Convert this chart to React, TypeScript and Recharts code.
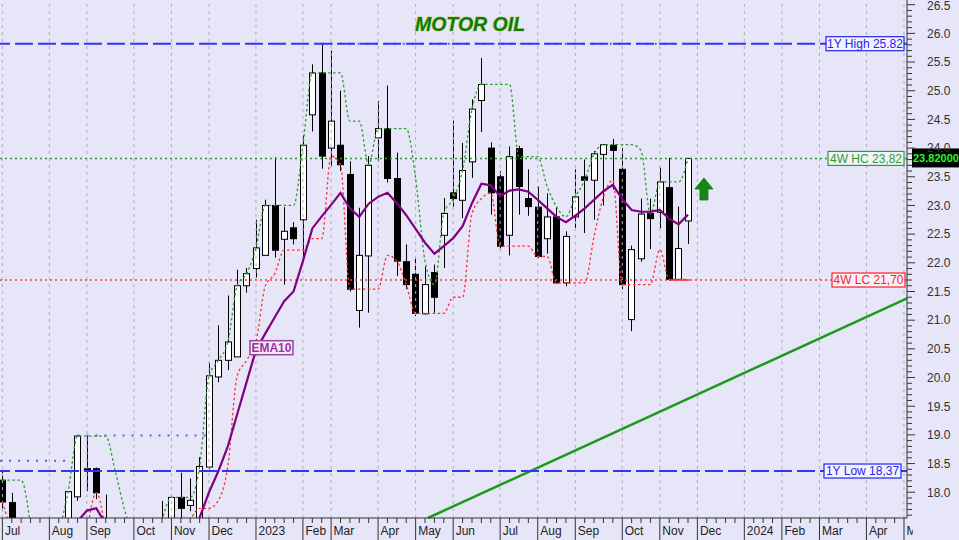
import React from 'react';
import { ComposedChart, XAxis, YAxis, Bar, Line, ReferenceLine, ReferenceDot } from 'recharts';

const n = null;

// Weekly candles, week 0 = first week of Jul 2022 (weeks hidden below the visible range are null)
const opens = [18.21,17.82,n,n,n,n,n,17.40,17.92,18.41,18.41,17.45,n,n,n,n,n,17.20,17.45,17.91,17.77,17.50,18.44,20.01,20.30,20.36,21.60,21.90,22.13,23.00,22.41,22.61,22.75,24.58,25.31,24.00,24.05,23.54,21.17,22.12,24.18,24.34,23.47,22.02,21.80,21.11,21.83,22.48,23.22,23.09,23.76,24.83,24.00,23.50,22.48,23.99,23.12,22.97,22.42,22.80,21.65,22.80,23.50,23.44,23.89,24.05,23.63,21.01,22.07,22.86,22.88,23.31,21.71,22.73];
const highs = [18.37,17.99,n,n,n,n,n,18.02,18.99,18.98,18.43,17.96,n,n,n,n,n,17.85,17.91,18.34,18.24,18.61,20.26,20.91,21.43,21.88,21.91,22.75,23.10,23.84,22.97,22.71,24.22,25.46,25.82,25.70,25.00,23.77,22.96,23.86,24.82,25.09,23.92,22.32,22.09,21.94,21.97,23.13,24.48,24.09,24.85,25.57,24.10,23.60,24.03,24.04,23.63,23.33,23.21,22.96,22.55,23.63,23.80,23.95,24.07,24.16,24.00,22.30,23.12,23.12,23.66,23.83,22.98,23.82];
const lows = [17.67,17.30,n,n,n,n,n,17.30,17.85,18.02,17.88,17.00,n,n,n,n,n,17.00,17.30,17.52,17.67,17.45,18.40,19.92,20.13,20.36,21.48,21.74,22.13,22.09,21.62,22.32,22.12,24.29,23.64,23.68,23.60,21.50,20.87,21.13,23.77,23.40,21.77,21.54,21.07,21.10,21.13,21.91,22.98,22.78,23.48,24.28,22.84,22.25,22.13,22.84,22.82,22.08,22.16,21.64,21.59,22.61,22.52,22.75,23.00,23.28,21.54,20.81,22.02,22.24,22.60,21.69,21.70,22.33];
const closes = [17.83,17.45,n,n,n,n,n,18.01,18.98,18.38,17.99,17.10,n,n,n,n,n,17.50,17.91,17.72,17.86,18.45,20.03,20.30,20.62,21.60,21.81,22.26,23.00,22.22,22.55,22.42,24.05,25.31,23.86,24.47,23.71,21.54,22.13,23.70,24.34,23.47,22.03,21.62,21.12,21.62,21.40,22.86,23.12,23.61,24.68,25.11,23.22,22.29,23.85,23.33,22.98,22.11,22.80,21.65,22.46,23.15,23.44,23.90,24.06,23.96,21.62,22.23,22.85,22.77,23.41,21.71,22.25,23.82];
const ema10 = [n,n,n,n,n,n,n,n,17.49,17.68,17.72,17.45,n,n,n,n,n,n,n,n,17.35,17.56,18.0,18.37,18.8,19.36,19.92,20.48,20.77,21.05,21.33,21.5,22.03,22.6,22.81,23.01,23.22,22.95,22.8,23.03,23.15,23.22,23.04,22.83,22.59,22.35,22.16,22.29,22.43,22.64,23.04,23.38,23.35,23.16,23.26,23.28,23.24,23.1,22.95,22.8,22.71,22.82,22.95,23.1,23.25,23.36,23.11,22.92,22.89,22.89,22.92,22.77,22.67,22.84];
const highClose4w = [18.21,18.21,18.21,17.4,n,n,17.3,18.01,18.98,18.98,18.98,18.98,18.38,17.7,17.2,n,n,17.5,17.91,17.91,17.91,18.45,20.03,20.30,20.62,21.60,21.81,22.26,23.00,23.00,23.00,23.00,24.05,25.31,25.31,25.31,25.31,24.47,24.47,23.71,24.34,24.34,24.34,24.34,23.47,22.03,21.62,22.86,23.12,23.61,24.68,25.11,25.11,25.11,25.11,23.85,23.85,23.85,23.33,22.98,22.80,23.15,23.44,23.90,24.06,24.06,24.06,24.06,23.96,22.85,23.41,23.41,23.41,23.82];
const lowClose4w = [17.83,17.3,n,n,n,n,n,n,n,17.3,17.99,17.3,n,n,n,n,n,n,n,n,17.5,17.72,17.72,17.86,18.45,20.03,20.30,20.62,21.60,21.81,22.22,22.22,22.22,22.42,22.42,23.86,23.71,21.54,21.54,21.54,21.54,22.13,22.03,21.62,21.12,21.12,21.12,21.12,21.40,21.40,22.86,23.12,23.22,22.29,22.29,22.29,22.29,22.11,22.11,21.65,21.65,21.65,21.65,22.46,23.15,23.44,21.62,21.62,21.62,21.62,22.23,21.71,21.71,21.71];

// Month ticks (week index -> label)
const monthTickIdx = [0,5,9,14,18,22,27,32,35,40,44,48,53,57,61,66,70,74,79,83,87,92,96];
const monthTickLabels = ['Jul','Aug','Sep','Oct','Nov','Dec','2023','Feb','Mar','Apr','May','Jun','Jul','Aug','Sep','Oct','Nov','Dec','2024','Feb','Mar','Apr','May'];

// Levels
const yearHigh = 25.82;
const yearLow = 18.37;
const hc4Level = 23.82;
const lc4Level = 21.70;
const lastPrice = '23.82000';
const trendStart = { x: 45.3, y: 17.551 };
const trendEnd = { x: 96.32, y: 21.38 };

const FONT = '"Liberation Sans", Arial, Helvetica, sans-serif';
const W = 959;
const H = 540;
const Y_AXIS_W = 52;
const X_AXIS_H = 22;
const PLOT_RIGHT = W - Y_AXIS_W;
const BG = '#E6E6F8';

const data = opens.map((o, i) => ({
  i,
  open: o,
  high: highs[i],
  low: lows[i],
  close: closes[i],
  ema: ema10[i],
  hc: highClose4w[i],
  lc: lowClose4w[i],
}));

const weekTicks = Array.from({ length: 97 }, (_, k) => k);
const yTicks = Array.from({ length: 90 }, (_, k) => Math.round((17.6 + k * 0.1) * 10) / 10);

const Candle = (props: any) => {
  const { x, y, width, height, payload } = props;
  if (!payload || payload.high == null) return null;
  const top = Math.min(y, y + height);
  const h = Math.abs(height);
  const range = payload.high - payload.low || 1;
  const py = (v: number) => top + ((payload.high - v) / range) * h;
  const cx = Math.round(x + width / 2) + 0.5;
  const up = payload.close >= payload.open;
  const bTop = py(Math.max(payload.open, payload.close));
  const bBot = py(Math.min(payload.open, payload.close));
  return (
    <g>
      <line x1={cx} x2={cx} y1={top} y2={top + h} stroke="#000" strokeWidth={1} />
      <rect x={cx - 3} y={bTop} width={6} height={Math.max(1, bBot - bTop)} fill={up ? '#fff' : '#000'} stroke="#000" strokeWidth={1} />
    </g>
  );
};

const YTick = (props: any) => {
  const { x, y, payload } = props;
  const v = payload.value;
  const major = Math.abs(v * 2 - Math.round(v * 2)) < 1e-6;
  return (
    <g>
      <line x1={x} y1={y} x2={x + (major ? 8 : 5)} y2={y} stroke="#333" strokeWidth={1} />
      {major && (
        <text x={x + 20} y={Math.max(y, 6)} dy="0.36em" fontSize={12} fill="#333" fontFamily={FONT}>
          {v.toFixed(1)}
        </text>
      )}
    </g>
  );
};

const XTick = (props: any) => {
  const { x, y, payload } = props;
  const k = monthTickIdx.indexOf(payload.value);
  if (k >= 0) {
    return (
      <g>
        <line x1={x} y1={y} x2={x} y2={y + X_AXIS_H} stroke="#333" strokeWidth={1} />
        <svg x={x} y={y} width={Math.max(0, PLOT_RIGHT + 6 - x)} height={X_AXIS_H} overflow="hidden">
          <text x={2.5} y={17} fontSize={12} fill="#222" fontFamily={FONT}>{monthTickLabels[k]}</text>
        </svg>
      </g>
    );
  }
  return <line x1={x} y1={y} x2={x} y2={y + 5} stroke="#333" strokeWidth={1} />;
};

const BoxLabel = (props: any) => {
  const { viewBox, text, color, w, right } = props;
  if (!viewBox) return null;
  const x2 = viewBox.x + viewBox.width - right;
  const y = viewBox.y;
  return (
    <g>
      <rect x={x2 - w} y={y - 7} width={w} height={14} fill="#F3F3FD" stroke={color} strokeWidth={1.2} />
      <text x={x2 - w / 2} y={y} dy="0.36em" textAnchor="middle" fontSize={12} fill={color} fontFamily={FONT}>{text}</text>
    </g>
  );
};

const PriceBox = (props: any) => {
  const { viewBox } = props;
  if (!viewBox) return null;
  const x = viewBox.x + viewBox.width + 5;
  const y = viewBox.y;
  return (
    <g>
      <rect x={x} y={y - 10} width={W - x} height={19} fill="#000" />
      <text x={x + 1} y={y} dy="0.36em" fontSize={11} fontWeight="bold" fill="#22FF22" fontFamily={FONT}>{lastPrice}</text>
    </g>
  );
};

const EmaLabel = (props: any) => {
  const { cx, cy } = props;
  return (
    <g>
      <rect x={cx - 21.5} y={cy - 7} width={43} height={14} fill="#F4EEF8" stroke="#A040A0" strokeWidth={1.5} />
      <text x={cx} y={cy} dy="0.36em" textAnchor="middle" fontSize={12} fontWeight="bold" fill="#A030A0" fontFamily={FONT}>EMA10</text>
    </g>
  );
};

const UpArrow = (props: any) => {
  const { cx, cy } = props;
  const pts = [
    [cx, cy - 11], [cx + 9, cy], [cx + 4, cy], [cx + 4, cy + 11],
    [cx - 4, cy + 11], [cx - 4, cy], [cx - 9, cy],
  ].map((p) => p.join(',')).join(' ');
  return <polygon points={pts} fill="#138A13" stroke="#0E6E0E" strokeWidth={0.8} />;
};

export default function App() {
  return (
    <div style={{ position: 'relative', width: W, height: H, background: BG, fontFamily: FONT }}>
      <style>{'body{margin:0;background:#E6E6F8}'}</style>
      <ComposedChart width={W} height={H} data={data} margin={{ top: 0, right: 0, left: 0, bottom: 0 }}>
        <XAxis
          dataKey="i"
          type="number"
          domain={[-0.256, 96.32]}
          allowDataOverflow
          ticks={weekTicks}
          interval={0}
          height={X_AXIS_H}
          tickSize={0}
          tickMargin={0}
          tickLine={false}
          tick={<XTick />}
          axisLine={{ stroke: '#333', strokeWidth: 1 }}
        />
        <YAxis
          orientation="right"
          type="number"
          domain={[17.551, 26.582]}
          allowDataOverflow
          ticks={yTicks}
          interval={0}
          width={Y_AXIS_W}
          tickSize={0}
          tickMargin={0}
          tickLine={false}
          tick={<YTick />}
          axisLine={{ stroke: '#333', strokeWidth: 1 }}
        />
        {monthTickIdx.map((m) => (
          <ReferenceLine key={'g' + m} x={m} stroke="#ADADB8" strokeWidth={1} strokeDasharray="3 4" />
        ))}
        <ReferenceLine segment={[trendStart, trendEnd]} stroke="#1C9A1C" strokeWidth={2.5} ifOverflow="visible" />
        <ReferenceLine segment={[{ x: -0.25, y: 18.55 }, { x: 7.2, y: 18.55 }]} stroke="#5A5AF0" strokeWidth={2} strokeDasharray="2 7" />
        <ReferenceLine segment={[{ x: 8, y: 18.99 }, { x: 22, y: 18.99 }]} stroke="#5A5AF0" strokeWidth={2} strokeDasharray="2 7" />
        <ReferenceLine segment={[{ x: 34, y: yearHigh }, { x: 71.5, y: yearHigh }]} stroke="#5A5AF0" strokeWidth={2} strokeDasharray="2 7" />
        <ReferenceLine
          y={yearHigh}
          stroke="#3434F4"
          strokeWidth={2}
          strokeDasharray="18 5"
          label={(p: any) => <BoxLabel viewBox={p.viewBox} text="1Y High 25.82" color="#2424F0" w={78} right={3} />}
        />
        <ReferenceLine
          y={yearLow}
          stroke="#3434F4"
          strokeWidth={2}
          strokeDasharray="18 5"
          label={(p: any) => <BoxLabel viewBox={p.viewBox} text="1Y Low 18,37" color="#2424F0" w={77} right={6} />}
        />
        <ReferenceLine
          y={hc4Level}
          stroke="#2E9B2E"
          strokeWidth={1.5}
          strokeDasharray="2 3"
          label={(p: any) => <BoxLabel viewBox={p.viewBox} text="4W HC 23,82" color="#2E9B2E" w={76} right={3} />}
        />
        <ReferenceLine
          y={lc4Level}
          stroke="#FF3B3B"
          strokeWidth={1.5}
          strokeDasharray="2 3"
          label={(p: any) => <BoxLabel viewBox={p.viewBox} text="4W LC 21,70" color="#FF2020" w={73} right={2} />}
        />
        <ReferenceLine segment={[{ x: 71, y: lc4Level }, { x: 73.2, y: lc4Level }]} stroke="#FF3030" strokeWidth={1.5} />
        <Line dataKey="hc" type="monotone" stroke="#2E9B2E" strokeWidth={1.3} strokeDasharray="2.5 2.5" dot={false} activeDot={false} isAnimationActive={false} />
        <Line dataKey="lc" type="monotone" stroke="#FF3030" strokeWidth={1.3} strokeDasharray="2.5 2.5" dot={false} activeDot={false} isAnimationActive={false} />
        <Bar dataKey={(d: any) => (d.high == null ? null : [d.low, d.high])} barSize={7} shape={Candle} isAnimationActive={false} />
        <Line dataKey="ema" type="linear" stroke="#800080" strokeWidth={2.2} dot={false} activeDot={false} isAnimationActive={false} />
        <ReferenceDot x={28.65} y={20.52} r={0} shape={(p: any) => <EmaLabel cx={p.cx} cy={p.cy} />} />
        <ReferenceDot x={74.7} y={23.287} r={0} shape={(p: any) => <UpArrow cx={p.cx} cy={p.cy} />} />
        <ReferenceLine y={hc4Level} stroke="none" label={(p: any) => <PriceBox viewBox={p.viewBox} />} />
      </ComposedChart>
      <svg width={W} height={40} style={{ position: 'absolute', left: 0, top: 0, pointerEvents: 'none' }}>
        <text
          x={470}
          y={31}
          textAnchor="middle"
          fontSize={19.5}
          fontWeight="bold"
          fontStyle="italic"
          fill="#0A7D0A"
          stroke="#D2D266"
          strokeWidth={1.1}
          paintOrder="stroke"
          fontFamily={FONT}
        >
          MOTOR OIL
        </text>
      </svg>
    </div>
  );
}
